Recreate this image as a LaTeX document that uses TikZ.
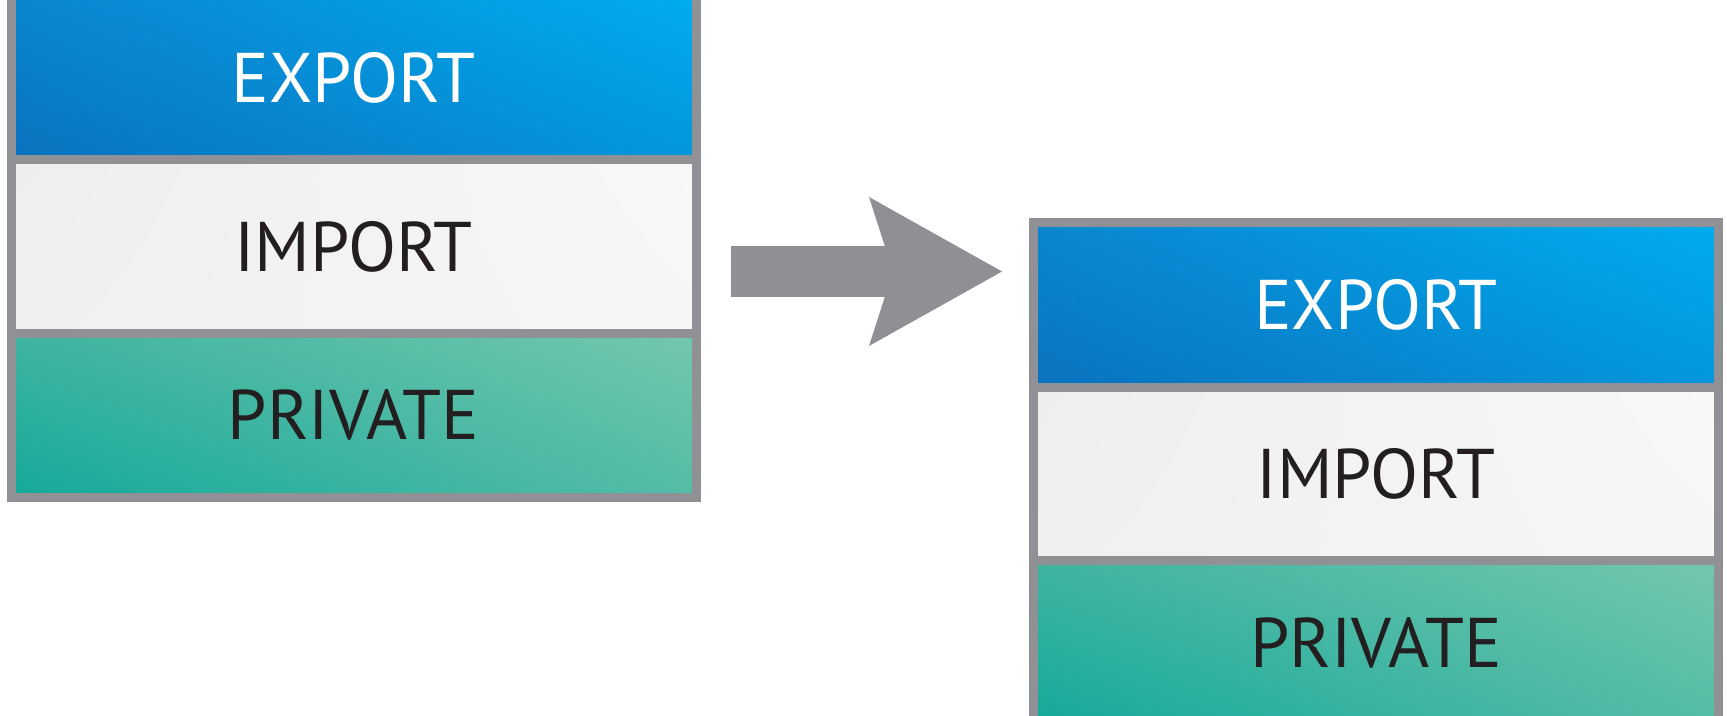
\documentclass[tikz,border=0pt]{standalone}
\usepackage{fontspec}
\setmainfont{PT Sans}
\usetikzlibrary{arrows.meta,shadings}

\definecolor{framegray}{HTML}{8F9194}
\definecolor{arrowgray}{HTML}{8E9093}
\definecolor{inkblack}{HTML}{231F20}
\definecolor{blueUL}{HTML}{0A86D0}
\definecolor{blueUR}{HTML}{00ADEF}
\definecolor{blueLL}{HTML}{0A72BF}
\definecolor{blueLR}{HTML}{0496DC}
\definecolor{whiteUL}{HTML}{EEEEEE}
\definecolor{whiteUR}{HTML}{F8F8F8}
\definecolor{whiteLL}{HTML}{F0F0F0}
\definecolor{whiteLR}{HTML}{F6F6F6}
\definecolor{tealUL}{HTML}{3FB4A0}
\definecolor{tealUR}{HTML}{74C7AE}
\definecolor{tealLL}{HTML}{14A99A}
\definecolor{tealLR}{HTML}{55BCA6}

\tikzset{
    layer/.style={draw=framegray, line width=0.18cm, minimum width=13.7cm,
        inner sep=0pt, outer sep=0pt, font=\fontsize{40pt}{48pt}\selectfont},
    exportbox/.style={layer, minimum height=3.30cm, text=white,
        upper left=blueUL, upper right=blueUR, lower left=blueLL, lower right=blueLR},
    importbox/.style={layer, minimum height=3.46cm, text=inkblack,
        upper left=whiteUL, upper right=whiteUR, lower left=whiteLL, lower right=whiteLR},
    privatebox/.style={layer, minimum height=3.29cm, text=inkblack,
        upper left=tealUL, upper right=tealUR, lower left=tealLL, lower right=tealLR},
    bigarrow/.style={draw=arrowgray, line width=1.02cm,
        -{Stealth[length=2.66cm, width=2.98cm, inset=0.48cm, line width=0pt, fill=arrowgray]}}
}

\begin{document}
\begin{tikzpicture}

    \useasboundingbox (0,0) rectangle (34.54,-14.32);

    \begin{scope}[shift={(7.07,0.10)}]  % before

        \node[exportbox] (lexport) at (0,-1.65) {EXPORT};
        \node[importbox] (limport) at (0,-5.03) {IMPORT};
        \node[privatebox] (lprivate) at (0,-8.405) {PRIVATE};

    \end{scope}

    \begin{scope}[shift={(27.52,-4.45)}]  % after

        \node[exportbox] (rexport) at (0,-1.65) {EXPORT};
        \node[importbox] (rimport) at (0,-5.03) {IMPORT};
        \node[privatebox] (rprivate) at (0,-8.405) {PRIVATE};

    \end{scope}

    \coordinate (from) at (14.62,-5.43);
    \coordinate (to) at (20.04,-5.43);
    \draw[bigarrow] (from) -- (to);

\end{tikzpicture}
\end{document}
